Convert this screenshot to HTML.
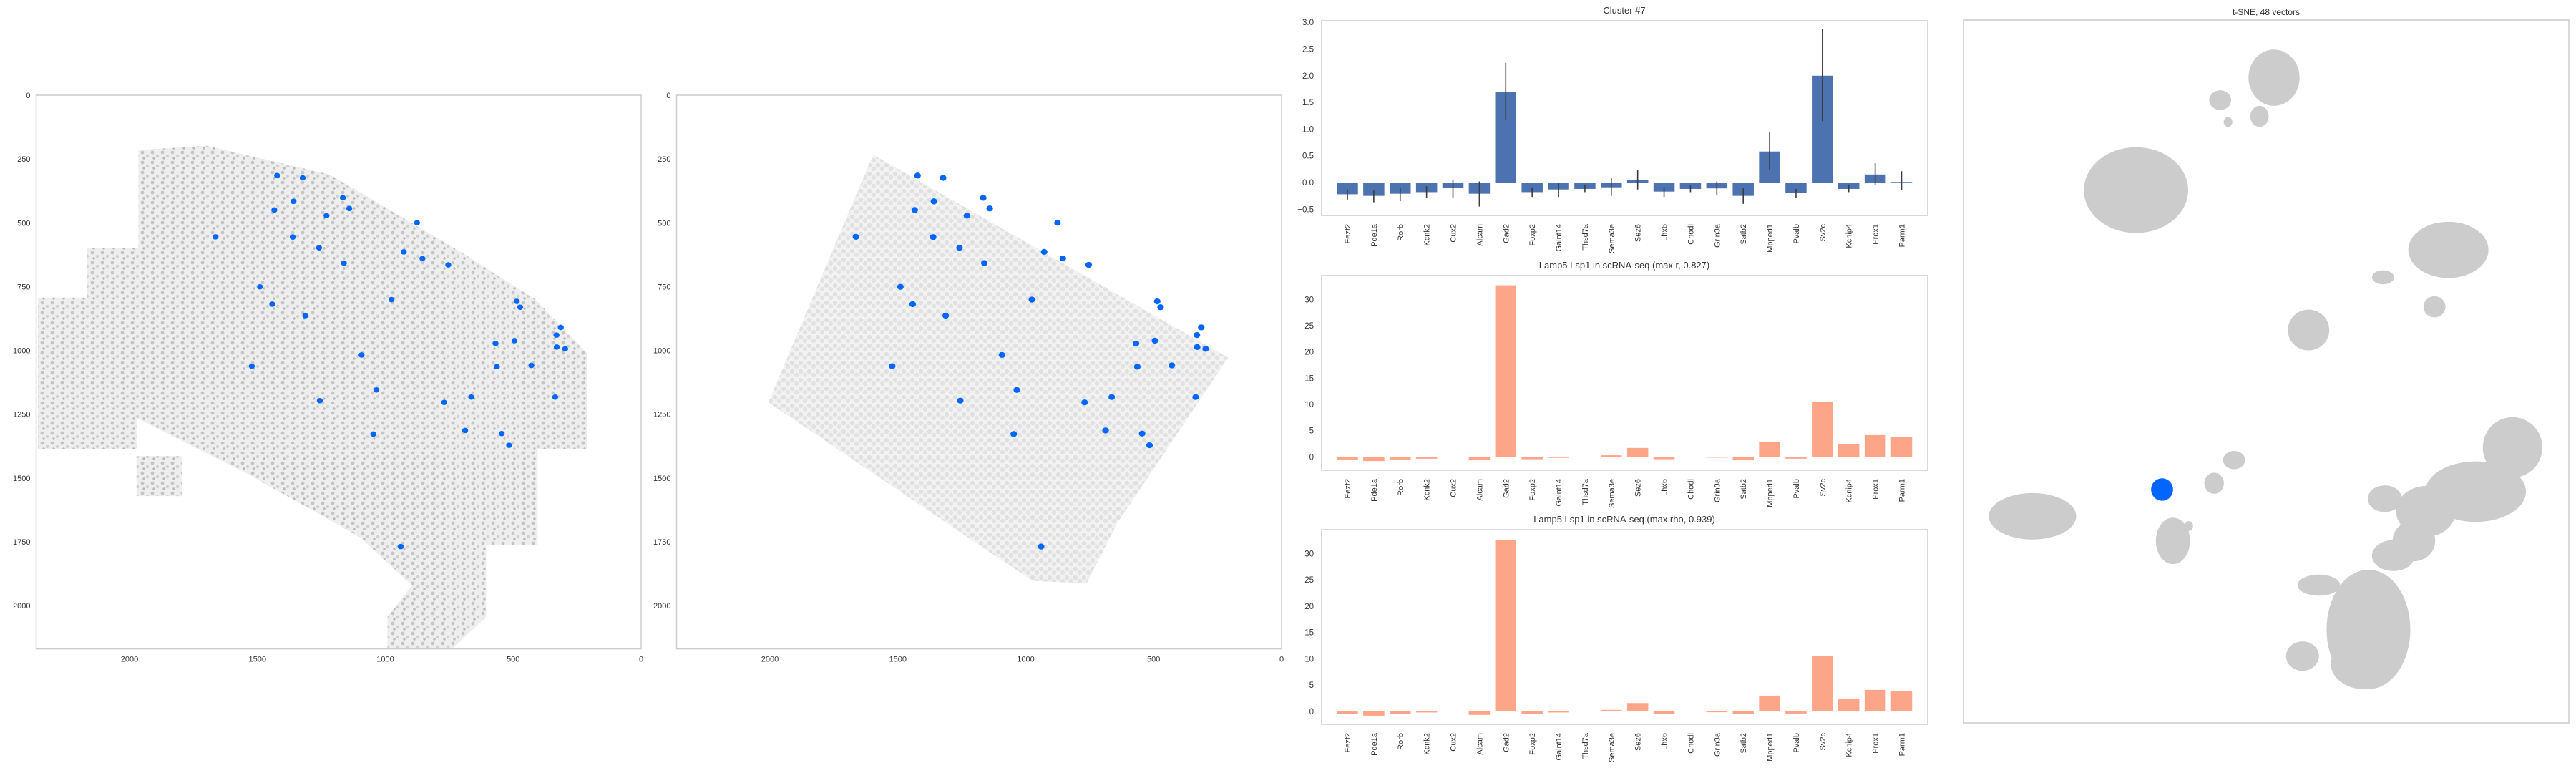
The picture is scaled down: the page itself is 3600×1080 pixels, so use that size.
<!DOCTYPE html>
<html><head><meta charset="utf-8"><style>
html,body{margin:0;padding:0;background:#fff;}
svg{display:block;}
text{font-family:"Liberation Sans","DejaVu Sans",sans-serif;fill:#333;}
.cond{font-family:"Liberation Sans Narrow","Liberation Sans",sans-serif;}
</style></head><body>
<svg id="root" width="3600" height="1080" viewBox="0 0 3600 1080" xmlns="http://www.w3.org/2000/svg">
<defs>
<pattern id="speck1" width="14" height="14" patternUnits="userSpaceOnUse">
<rect width="14" height="14" fill="#eeeeee"/>
<circle cx="3" cy="3" r="2.4" fill="#c4c4c4"/><circle cx="10" cy="8" r="2.2" fill="#d0d0d0"/><circle cx="5" cy="11" r="1.7" fill="#b8b8b8"/>
</pattern>
<pattern id="speck2" width="12" height="12" patternUnits="userSpaceOnUse">
<rect width="12" height="12" fill="#f2f2f2"/>
<circle cx="3" cy="3" r="3.2" fill="#e0e0e0"/><circle cx="9" cy="8" r="3.2" fill="#e2e2e2"/>
</pattern>
</defs>
<g id="g-spatial1"></g>
<g id="g-spatial2"></g>
<g id="g-bar1"></g>
<g id="g-bar2"></g>
<g id="g-bar3"></g>
<g id="g-tsne"></g>
</svg>
<script>
// ---------- data ----------
const genes = ["Fezf2","Pde1a","Rorb","Kcnk2","Cux2","Alcam","Gad2","Foxp2","Galnt14","Thsd7a","Sema3e","Sez6","Lhx6","Chodl","Grin3a","Satb2","Mpped1","Pvalb","Sv2c","Kcnip4","Prox1","Parm1"];
const clusterMean = [-0.22,-0.25,-0.21,-0.18,-0.10,-0.21,1.70,-0.18,-0.13,-0.12,-0.09,0.04,-0.17,-0.12,-0.11,-0.25,0.58,-0.20,2.00,-0.12,0.15,0.01];
const clusterErrLo = [-0.32,-0.37,-0.35,-0.29,-0.28,-0.45,1.18,-0.27,-0.27,-0.18,-0.25,-0.13,-0.27,-0.18,-0.24,-0.40,0.23,-0.29,1.15,-0.18,-0.04,-0.14];
const clusterErrHi = [-0.13,-0.15,-0.09,-0.07,0.05,0.02,2.24,-0.09,0.00,-0.04,0.08,0.24,-0.09,-0.06,0.02,-0.11,0.94,-0.12,2.87,-0.04,0.36,0.21];
const scrnaR = [-0.5,-0.8,-0.5,-0.35,0,-0.65,32.7,-0.45,-0.2,0,0.3,1.7,-0.45,0,-0.15,-0.65,2.9,-0.35,10.55,2.5,4.15,3.85];
const scrnaRho = [-0.5,-0.8,-0.45,-0.2,0,-0.65,32.6,-0.5,-0.2,0,0.3,1.6,-0.5,0,-0.15,-0.5,3.0,-0.4,10.5,2.45,4.1,3.8];
const bar1Ticks = [-0.5,0,0.5,1,1.5,2,2.5,3];
const bar1TickLabels = ["\u22120.5","0.0","0.5","1.0","1.5","2.0","2.5","3.0"];
const bar23Ticks = [0,5,10,15,20,25,30];
const spatialXTicks = [2000,1500,1000,500,0];
const spatialYTicks = [0,250,500,750,1000,1250,1500,1750,2000];
const tissue1 = [[2358,793],[2166,793],[2166,600],[1965,600],[1965,215],[1699,198],[1217,311],[686,626],[413,801],[212,1011],[212,1388],[405,1388],[405,1764],[606,1764],[606,2044],[735,2166],[992,2166],[992,2044],[895,1921],[1104,1729],[1539,1484],[1973,1265],[1973,1388],[2358,1388]];
const tissue1b = [[1973,1414],[1796,1414],[1796,1571],[1973,1571]];
const tissue2 = [[1597,233],[209,1029],[642,1676],[762,1913],[971,1904],[1180,1764],[2006,1204]];
const cellX = [1423,1323,1359,1166,1434,1141,1230,876,1664,1362,1259,928,855,1162,754,1490,1442,976,1313,486,473,314,331,569,495,330,297,1093,1522,564,429,1035,1256,770,664,336,688,545,516,1047,940];
const cellY = [315,324,416,402,450,444,472,500,555,556,598,614,640,658,665,751,819,801,864,808,831,910,940,973,962,987,994,1018,1062,1064,1059,1155,1197,1204,1183,1183,1314,1326,1372,1328,1769];
const tsneCx = [51.3,42.4,48.9,43.7,28.5,80.1,77.8,69.3,57.0,11.4,34.6,44.7,41.4,37.2,90.7,84.6,76.4,74.4,71.0,66.9,66.2,56.0,69.6,58.7];
const tsneCy = [8.2,11.4,13.7,14.5,24.2,32.7,40.8,36.6,44.1,70.6,74.1,62.6,65.9,72.0,60.8,67.1,69.9,74.1,76.2,86.7,91.6,90.5,68.1,80.4];
const tsneRx = [4.1,1.7,1.4,0.6,8.5,6.5,1.7,1.7,3.3,7.1,2.7,1.7,1.5,0.6,4.8,8.2,4.8,3.4,3.4,6.8,5.4,2.6,2.7,3.4];
const tsneRy = [3.9,1.3,1.4,0.6,6.0,3.9,1.4,0.9,2.8,3.2,3.2,1.2,1.4,0.6,4.2,4.2,3.5,2.8,2.1,8.4,3.5,2.0,1.8,1.4];
const tsneSelCx = [32.8];
const tsneSelCy = [66.8];
const tsneSelRx = [1.7];
const tsneSelRy = [1.5];

// ---------- helpers ----------
const NS = "http://www.w3.org/2000/svg";
function mk(parent, tag, attrs, txt){
  const e = document.createElementNS(NS, tag);
  for (const k in attrs) e.setAttribute(k, attrs[k]);
  if (txt !== undefined) e.textContent = txt;
  parent.appendChild(e);
  return e;
}

// ---------- spatial panels ----------
function spatial(gid, left0, tissueList, fillId, dotR){
  const g = document.getElementById(gid);
  const X = v => left0 - v*0.3575;
  const Y = v => 133 + v*0.3565;
  const bx0 = X(2365), bx1 = X(0), by0 = Y(0), by1 = Y(2170);
  tissueList.forEach(poly => {
    const p = mk(g, "polygon", {points: poly.map(q => X(q[0]).toFixed(1)+","+Y(q[1]).toFixed(1)).join(" "), fill: "url(#"+fillId+")"});
    
    
  });
  for (let i=0;i<cellX.length;i++){
    const c = mk(g, "ellipse", {cx: X(cellX[i]), cy: Y(cellY[i]), rx: dotR, ry: dotR*0.9, fill: "#0066ff"});
    
    
  }
  const fr = mk(g, "rect", {x: bx0, y: by0, width: bx1-bx0, height: by1-by0, fill: "none", stroke: "#cccccc", "stroke-width": 1.5});
  
  
  spatialXTicks.forEach(t => {
    const tx = mk(g, "text", {x: X(t), y: by1+18, "font-size": 11, "text-anchor": "middle"}, String(t));
    
    
  });
  spatialYTicks.forEach(t => {
    const ty = mk(g, "text", {x: bx0-8, y: Y(t)+4, "font-size": 11, "text-anchor": "end"}, String(t));
    
    
  });
}
spatial("g-spatial1", 896, [tissue1, tissue1b], "speck1", 4.2);
spatial("g-spatial2", 1791, [tissue2], "speck2", 4.6);

// ---------- bar charts ----------
function barChart(gid, cfg){
  const g = document.getElementById(gid);
  const L = 1847, R = 2694;
  const xc = i => 1883 + i*36.88;
  const Y = v => cfg.zero - v*cfg.k;
  const bw = 29.5;
  const t = mk(g, "text", {x: 2270, y: cfg.top-10, "font-size": 13, "text-anchor": "middle", class: "cond"}, cfg.title);
  
  
  cfg.vals.forEach((v,i) => {
    const y0 = Y(Math.max(v,0)), y1 = Y(Math.min(v,0));
    const r = mk(g, "rect", {x: xc(i)-bw/2, y: y0, width: bw, height: Math.max(y1-y0, 0.01), fill: cfg.color});
    
    
    if (cfg.lo){
      const l = mk(g, "line", {x1: xc(i), x2: xc(i), y1: Y(cfg.lo[i]), y2: Y(cfg.hi[i]), stroke: "#3b3b3b", "stroke-width": 1.6});
      
      
    }
    const lb = mk(g, "text", {transform: "translate("+(xc(i)+4)+","+(cfg.bottom+12)+") rotate(-90)", "font-size": 11, "text-anchor": "end"}, genes[i]);
    
    
  });
  const fr = mk(g, "rect", {x: L, y: cfg.top, width: R-L, height: cfg.bottom-cfg.top, fill: "none", stroke: "#cccccc", "stroke-width": 1.5});
  
  
  cfg.ticks.forEach((tv,j) => {
    const ty = mk(g, "text", {x: 1836, y: Y(tv)+4, "font-size": 11.5, "text-anchor": "end", class: "cond"}, cfg.tickLabels ? cfg.tickLabels[j] : String(tv));
    
    
  });
}
barChart("g-bar1", {title: "Cluster #7", top: 29, bottom: 301, zero: 255, k: 74.6, vals: clusterMean, lo: clusterErrLo, hi: clusterErrHi, color: "#4c72b0", ticks: bar1Ticks, tickLabels: bar1TickLabels});
barChart("g-bar2", {title: "Lamp5 Lsp1 in scRNA-seq (max r, 0.827)", top: 385, bottom: 657, zero: 638.3, k: 7.33, vals: scrnaR, color: "#fca588", ticks: bar23Ticks});
barChart("g-bar3", {title: "Lamp5 Lsp1 in scRNA-seq (max rho, 0.939)", top: 740, bottom: 1012, zero: 994, k: 7.357, vals: scrnaRho, color: "#fca588", ticks: bar23Ticks});

// ---------- t-SNE ----------
(function(){
  const g = document.getElementById("g-tsne");
  const L = 2744, R = 3590, T = 28, B = 1010;
  const X = u => L + u/100*(R-L);
  const Y = v => T + v/100*(B-T);
  const SX = u => u/100*(R-L), SY = v => v/100*(B-T);
  const t = mk(g, "text", {x: (L+R)/2, y: 21, "font-size": 12, "text-anchor": "middle"}, "t-SNE, 48 vectors");
  
  
  for (let i=0;i<tsneCx.length;i++){
    const e = mk(g, "ellipse", {cx: X(tsneCx[i]), cy: Y(tsneCy[i]), rx: SX(tsneRx[i])+1, ry: SY(tsneRy[i])+1, fill: "#cccccc"});
    
    
  }
  for (let i=0;i<tsneSelCx.length;i++){
    const e = mk(g, "ellipse", {cx: X(tsneSelCx[i]), cy: Y(tsneSelCy[i]), rx: SX(tsneSelRx[i])+1, ry: SY(tsneSelRy[i])+1, fill: "#0066ff"});
    
    
  }
  const fr = mk(g, "rect", {x: L, y: T, width: R-L, height: B-T, fill: "none", stroke: "#cccccc", "stroke-width": 1.5});
  
  
})();
</script>
</body></html>
